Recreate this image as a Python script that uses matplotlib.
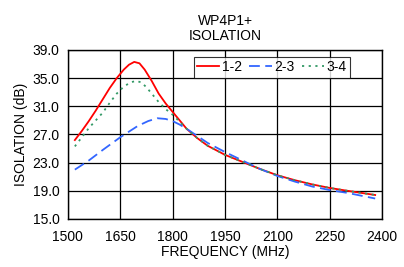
import matplotlib
matplotlib.use("Agg")
import matplotlib.pyplot as plt

plt.rcParams['font.family'] = ['Liberation Sans', 'DejaVu Sans']

freq_12 = [1520, 1540, 1560, 1580, 1600, 1620, 1640, 1660, 1675, 1690, 1705, 1720, 1740,
           1760, 1780, 1800, 1820, 1840, 1870, 1900, 1950, 2000, 2050, 2100, 2150, 2200,
           2250, 2300, 2340, 2380]
iso_12 = [26.2, 27.5, 28.9, 30.4, 32.0, 33.6, 35.0, 36.2, 36.9, 37.3, 37.1, 36.2, 34.6,
          32.8, 31.4, 30.2, 29.0, 27.8, 26.5, 25.4, 24.1, 23.1, 22.1, 21.2, 20.5, 19.9,
          19.4, 19.0, 18.7, 18.4]

freq_23 = [1520, 1560, 1600, 1650, 1700, 1730, 1756, 1780, 1800, 1820, 1840, 1870, 1900,
           1950, 2000, 2050, 2100, 2150, 2200, 2250, 2300, 2340, 2380]
iso_23 = [22.0, 23.3, 24.8, 26.6, 28.2, 28.9, 29.3, 29.2, 28.9, 28.4, 27.8, 26.8, 25.8,
          24.5, 23.3, 22.1, 21.1, 20.3, 19.6, 19.1, 18.7, 18.3, 17.9]

freq_34 = [1520, 1540, 1560, 1580, 1600, 1620, 1640, 1660, 1680, 1695, 1710, 1725, 1740,
           1760, 1780, 1800, 1820, 1840, 1870, 1900, 1950, 2000, 2050, 2100, 2150, 2200,
           2250, 2300, 2340, 2380]
iso_34 = [25.3, 26.6, 27.9, 29.0, 30.1, 31.5, 32.8, 33.8, 34.4, 34.6, 34.4, 33.7, 32.8,
          31.6, 30.6, 29.8, 28.8, 27.8, 26.5, 25.4, 24.1, 23.1, 22.1, 21.2, 20.5, 19.9,
          19.4, 19.0, 18.7, 18.4]

fig = plt.figure(figsize=(4.04, 2.67), dpi=100)
ax = fig.add_axes([0.168, 0.180, 0.778, 0.633])

ax.plot(freq_12, iso_12, color='#ff0000', lw=1.3, label='1-2')
ax.plot(freq_23, iso_23, color='#3366ff', lw=1.3, dashes=(6, 3), label='2-3')
ax.plot(freq_34, iso_34, color='#339966', lw=1.3, dashes=(1.2, 2.5), label='3-4')

ax.set_xlim(1500, 2400)
ax.set_ylim(15, 39)
ax.set_xticks(range(1500, 2401, 150))
ax.set_yticks([15 + 4 * i for i in range(7)])
ax.set_yticklabels([f"{15 + 4 * i:.1f}" for i in range(7)])
ax.grid(True, color='black', lw=0.9)
ax.tick_params(length=0, labelsize=10)
ax.tick_params(axis='x', pad=8)
ax.tick_params(axis='y', pad=6)
for s in ax.spines.values():
    s.set_color('black')
    s.set_linewidth(1)

ax.set_xlabel('FREQUENCY (MHz)', fontsize=10, labelpad=1)
ax.set_ylabel('ISOLATION (dB)', fontsize=10, labelpad=3)
ax.set_title('WP4P1+\nISOLATION', fontsize=10, linespacing=1.15, pad=7)

leg = ax.legend(loc='upper right', bbox_to_anchor=(0.898, 0.96), ncol=3, fontsize=10,
                frameon=True, fancybox=False, handlelength=1.6, handletextpad=0.2,
                columnspacing=0.5, borderpad=0.25, borderaxespad=0)
leg.get_frame().set_edgecolor('black')
leg.get_frame().set_linewidth(0.8)

fig.savefig('out.png', dpi=100)
